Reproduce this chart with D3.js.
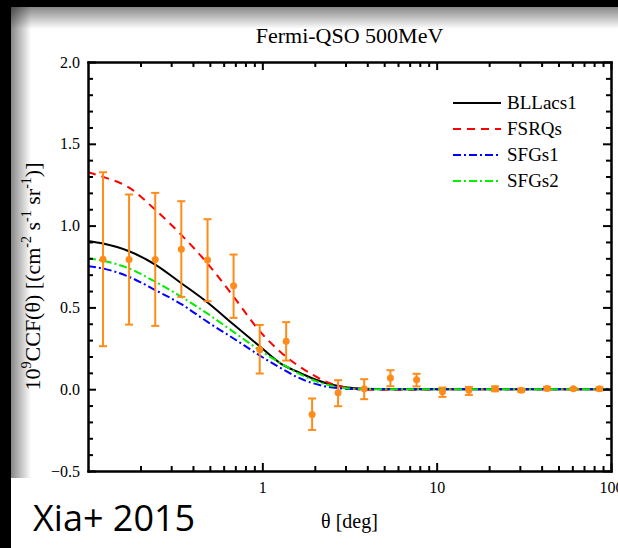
<!DOCTYPE html>
<html>
<head>
<meta charset="utf-8">
<script src="https://cdn.jsdelivr.net/npm/d3@7"></script>
<style>
  html, body { margin: 0; padding: 0; background: #000; }
  #chart { position: absolute; left: 0; top: 0; }
  .axis path, .axis line { stroke: #000; stroke-width: 2; }
  .axis text { font-family: "Liberation Serif", "Times New Roman", serif; font-size: 16px; fill: #000; }
</style>
</head>
<body>
<div id="chart"></div>
<script>
// measured points (theta in deg, CCF x 1e9)
const thetaPts = [0.122, 0.172, 0.243, 0.343, 0.485, 0.684, 0.966, 1.37, 1.93, 2.72,
                  3.84, 5.43, 7.67, 10.8, 15.3, 21.6, 30.5, 43.0, 60.8, 85.9];
const ccfPts = [0.795, 0.793, 0.793, 0.856, 0.789, 0.632, 0.243, 0.293, -0.155, -0.022,
                0.002, 0.069, 0.057, -0.016, -0.006, 0.002, -0.006, 0.004, 0.002, 0.002];
const errLow = [0.263, 0.395, 0.387, 0.564, 0.538, 0.436, 0.096, 0.175, -0.249, -0.104,
                -0.061, 0.018, 0.017, -0.047, -0.035, -0.013, -0.016, -0.006, -0.003, -0.008];
const errHigh = [1.326, 1.19, 1.20, 1.149, 1.039, 0.823, 0.393, 0.41, -0.057, 0.055,
                 0.061, 0.116, 0.094, 0.010, 0.014, 0.017, 0.004, 0.014, 0.007, 0.012];

// model curves
const thetaModel = [0.1, 0.122, 0.172, 0.243, 0.343, 0.485, 0.684, 0.966, 1.27, 1.6,
                    1.93, 2.3, 2.72, 3.3, 3.84, 5.43, 10, 30, 100];
const bllacs1 = [0.906, 0.89, 0.843, 0.762, 0.648, 0.53, 0.395, 0.262, 0.158, 0.105,
                 0.067, 0.038, 0.02, 0.007, 0.002, 0, 0, 0, 0];
const fsrqs = [1.326, 1.298, 1.232, 1.097, 0.943, 0.768, 0.566, 0.355, 0.228, 0.145,
               0.09, 0.048, 0.022, 0.004, -0.004, -0.004, -0.001, 0, 0];
const sfgs1 = [0.752, 0.738, 0.687, 0.606, 0.52, 0.411, 0.31, 0.206, 0.13, 0.072,
               0.038, 0.017, 0.006, 0.001, 0, 0, 0, 0, 0];
const sfgs2 = [0.799, 0.785, 0.738, 0.657, 0.565, 0.462, 0.35, 0.238, 0.16, 0.098,
               0.058, 0.03, 0.013, 0.003, 0.001, 0, 0, 0, 0];

const seriesNames = ["BLLacs1", "FSRQs", "SFGs1", "SFGs2"];
const xMajor = [1, 10, 100];
const xMinor = [0.2, 0.3, 0.4, 0.5, 0.6, 0.7, 0.8, 0.9, 2, 3, 4, 5, 6, 7, 8, 9, 20, 30, 40, 50, 60, 70, 80, 90];
const yMajor = [-0.5, 0.0, 0.5, 1.0, 1.5, 2.0];
const yMinor = [-0.4, -0.3, -0.2, -0.1, 0.1, 0.2, 0.3, 0.4, 0.6, 0.7, 0.8, 0.9,
                1.1, 1.2, 1.3, 1.4, 1.6, 1.7, 1.8, 1.9];

const W = 618, H = 548;
const plot = { left: 88, right: 611, top: 62, bottom: 471 };
const serif = '"Liberation Serif", "Times New Roman", serif';
const orange = "#ff8c1a";

const styles = [
  { data: bllacs1, color: "#000000", dash: null },
  { data: fsrqs, color: "#ff0000", dash: "8,6" },
  { data: sfgs1, color: "#0000ff", dash: "8,3,2,3" },
  { data: sfgs2, color: "#00ee00", dash: "8,3,2,3" }
];

const svg = d3.select("#chart").append("svg")
  .attr("width", W).attr("height", H);

// panel with inset shading
const defs = svg.append("defs");
const gTop = defs.append("linearGradient").attr("id", "shadeTop")
  .attr("x1", 0).attr("y1", 0).attr("x2", 0).attr("y2", 1);
gTop.append("stop").attr("offset", 0).attr("stop-color", "#000").attr("stop-opacity", 0.47);
gTop.append("stop").attr("offset", 1).attr("stop-color", "#000").attr("stop-opacity", 0);
const gLeft = defs.append("linearGradient").attr("id", "shadeLeft")
  .attr("x1", 0).attr("y1", 0).attr("x2", 1).attr("y2", 0);
gLeft.append("stop").attr("offset", 0).attr("stop-color", "#000").attr("stop-opacity", 0.47);
gLeft.append("stop").attr("offset", 1).attr("stop-color", "#000").attr("stop-opacity", 0);
defs.append("clipPath").attr("id", "plotClip").append("rect")
  .attr("x", plot.left).attr("y", plot.top)
  .attr("width", plot.right - plot.left).attr("height", plot.bottom - plot.top);

svg.append("rect").attr("x", 11).attr("y", 7).attr("width", W - 11).attr("height", H - 7)
  .attr("fill", "#fff");
svg.append("rect").attr("x", 11).attr("y", 7).attr("width", W - 11).attr("height", 22)
  .attr("fill", "url(#shadeTop)");
svg.append("rect").attr("x", 11).attr("y", 7).attr("width", 20).attr("height", 471)
  .attr("fill", "url(#shadeLeft)");
svg.append("rect").attr("x", 13).attr("y", 478).attr("width", W - 13).attr("height", H - 478)
  .attr("fill", "#fff");

// scales
const x = d3.scaleLog().domain([0.1, 100]).range([plot.left, plot.right]);
const y = d3.scaleLinear().domain([-0.5, 2.0]).range([plot.bottom, plot.top]);

// curves
const line = d3.line()
  .x(d => x(d[0]))
  .y(d => y(d[1]))
  .curve(d3.curveMonotoneX);

const curves = svg.append("g").attr("clip-path", "url(#plotClip)");
styles.forEach(s => {
  curves.append("path")
    .datum(thetaModel.map((t, i) => [t, s.data[i]]))
    .attr("d", line)
    .attr("fill", "none")
    .attr("stroke", s.color)
    .attr("stroke-width", 2)
    .attr("stroke-dasharray", s.dash);
});

// data points with error bars
const pts = thetaPts.map((t, i) => ({ t: t, v: ccfPts[i], lo: errLow[i], hi: errHigh[i] }));
const pg = svg.append("g");
pg.selectAll(".err").data(pts).enter().append("line")
  .attr("x1", d => x(d.t)).attr("x2", d => x(d.t))
  .attr("y1", d => y(d.lo)).attr("y2", d => y(d.hi))
  .attr("stroke", orange).attr("stroke-width", 2);
[d => d.lo, d => d.hi].forEach(f => {
  pg.selectAll(null).data(pts).enter().append("line")
    .attr("x1", d => x(d.t) - 4).attr("x2", d => x(d.t) + 4)
    .attr("y1", d => y(f(d))).attr("y2", d => y(f(d)))
    .attr("stroke", orange).attr("stroke-width", 2);
});
pg.selectAll("circle").data(pts).enter().append("circle")
  .attr("cx", d => x(d.t)).attr("cy", d => y(d.v)).attr("r", 3.5)
  .attr("fill", orange);

// axes, ticks inward on all four sides
function addAxis(axis, tx, ty, labels) {
  const g = svg.append("g").attr("class", "axis")
    .attr("transform", `translate(${tx},${ty})`)
    .call(axis);
  if (!labels) g.selectAll("text").remove();
  return g;
}
addAxis(d3.axisBottom(x).tickValues(xMajor).tickSize(-8).tickSizeOuter(0).tickPadding(11)
  .tickFormat(d3.format("d")), 0, plot.bottom, true);
addAxis(d3.axisBottom(x).tickValues(xMinor).tickSize(-5).tickSizeOuter(0), 0, plot.bottom, false);
addAxis(d3.axisTop(x).tickValues(xMajor).tickSize(-8).tickSizeOuter(0), 0, plot.top, false);
addAxis(d3.axisTop(x).tickValues(xMinor).tickSize(-5).tickSizeOuter(0), 0, plot.top, false);
addAxis(d3.axisLeft(y).tickValues(yMajor).tickSize(-8).tickSizeOuter(0).tickPadding(8)
  .tickFormat(d3.format(".1f")), plot.left, 0, true);
addAxis(d3.axisLeft(y).tickValues(yMinor).tickSize(-5).tickSizeOuter(0), plot.left, 0, false);
addAxis(d3.axisRight(y).tickValues(yMajor).tickSize(-8).tickSizeOuter(0), plot.right, 0, false);
addAxis(d3.axisRight(y).tickValues(yMinor).tickSize(-5).tickSizeOuter(0), plot.right, 0, false);
svg.selectAll(".axis path").attr("stroke-linecap", "square");

// title and axis labels
svg.append("text")
  .attr("x", (plot.left + plot.right) / 2).attr("y", 43)
  .attr("text-anchor", "middle")
  .style("font-family", serif).style("font-size", "22px")
  .text("Fermi-QSO 500MeV");

svg.append("text")
  .attr("x", (plot.left + plot.right) / 2).attr("y", 528)
  .attr("text-anchor", "middle")
  .style("font-family", serif).style("font-size", "20px")
  .text("θ [deg]");

const yl = svg.append("text")
  .attr("transform", `translate(40,${(plot.top + plot.bottom) / 2 + 10}) rotate(-90)`)
  .attr("text-anchor", "middle")
  .style("font-family", serif).style("font-size", "22px");
const parts = [["10", 0], ["9", 1], ["CCF(θ) [(cm", 0], ["-2", 1], [" s", 0], ["-1", 1],
               [" sr", 0], ["-1", 1], [")]", 0]];
parts.forEach(p => {
  yl.append("tspan")
    .attr("baseline-shift", p[1] ? "9" : null)
    .style("font-size", p[1] ? "14px" : null)
    .text(p[0]);
});

// legend
const leg = svg.append("g");
seriesNames.forEach((name, i) => {
  const ly = 103 + i * 26;
  leg.append("line")
    .attr("x1", 453).attr("x2", 501).attr("y1", ly).attr("y2", ly)
    .attr("stroke", styles[i].color).attr("stroke-width", 2)
    .attr("stroke-dasharray", styles[i].dash);
  leg.append("text")
    .attr("x", 507).attr("y", ly + 6)
    .style("font-family", serif).style("font-size", "19px")
    .text(name);
});

// citation
svg.append("text")
  .attr("x", 33).attr("y", 531)
  .style("font-family", '"Open Sans", sans-serif').style("font-size", "36px")
  .attr("fill", "#000")
  .text("Xia+ 2015");
</script>
</body>
</html>
